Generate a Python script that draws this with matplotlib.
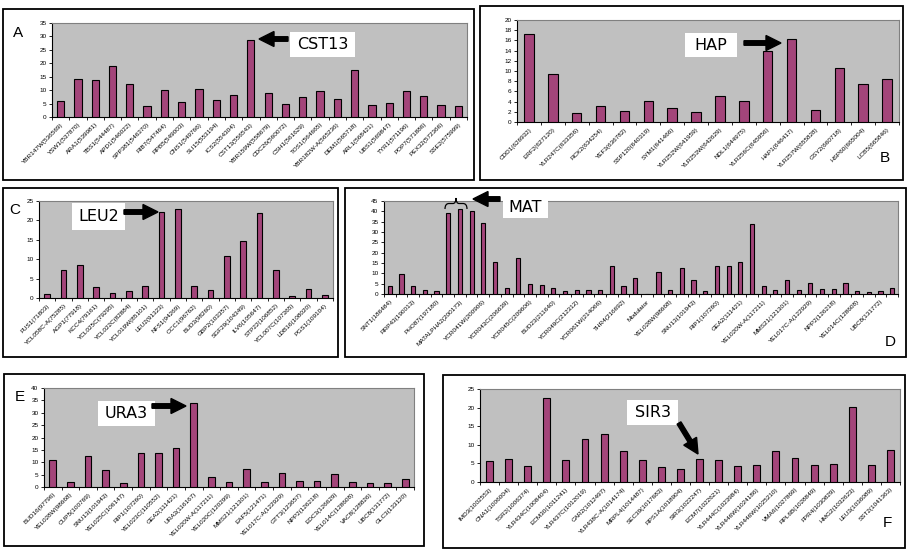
import matplotlib
matplotlib.use("Agg")
import matplotlib.pyplot as plt
from matplotlib.patches import Rectangle, FancyArrow, PathPatch
from matplotlib.path import Path
from matplotlib.transforms import Affine2D

W, H = 907, 549

# chromosome III / II / XII / V neighbourhoods, one panel each
A_genes = ["YBR147W(536569)", "YSW1(537870)", "ARA1(539981)", "TBS1(544487)",
           "APD1(546022)", "SPP381(546370)", "RIB7(547464)", "RPB5(549003)",
           "CNS1(549766)", "SLI15(553194)", "ICS2(554304)", "CST13(556543)",
           "YBR159W(558679)", "CDC26(560072)", "CSH1(561629)", "TOS1(564665)",
           "YBR182W-A(565236)", "DEM1(565718)", "ARL1(568421)", "UBS1(569847)",
           "TYR1(571196)", "POP7(571886)", "PEX32(572366)", "SSE2(575999)"]
A_vals = [5.9, 14.1, 13.9, 18.9, 12.4, 4.0, 9.9, 5.4, 10.6, 6.2, 8.1, 28.8,
          8.8, 4.9, 7.6, 9.6, 6.8, 17.4, 4.6, 5.1, 9.6, 8.0, 4.5, 4.2]

B_genes = ["CDD1(626932)", "ERF2(627120)", "YLR247C(633356)", "RCK2(634254)",
           "YEF3(636782)", "SSP120(640319)", "SYM1(641466)", "YLR252W(641959)",
           "YLR253W(642629)", "NDL1(644975)", "YLR256C(645956)", "HAP1(646417)",
           "YLR257W(655828)", "GSY2(660718)", "HSP60(665004)", "LCB5(665846)"]
B_vals = [17.25, 9.35, 1.75, 3.2, 2.1, 4.05, 2.8, 1.95, 5.1, 4.1, 13.9, 16.2,
          2.35, 10.5, 7.4, 8.5]

C_genes = ["FUS1(71803)", "YCL058C-A(75285)", "AGP1(77918)", "KCC4(79161)",
           "YCL025C(79295)", "YCL022C(82884)", "YCL019W(85101)", "LEU2(91323)",
           "NFS1(94269)", "OCC1(96762)", "BUD3(98260)", "GBP2(103357)",
           "SGF29(104349)", "ILV6(105647)", "STP22(106852)", "YCL007C(107365)",
           "LDB16(108020)", "PGS1(109104)"]
C_vals = [1.1, 7.3, 8.5, 2.8, 1.3, 1.7, 3.0, 22.2, 23.0, 3.2, 2.1, 10.8, 14.8,
          21.9, 7.3, 0.6, 2.2, 0.8]

# only every second bar carries a name in this panel
D_genes = ["SNT1(186484)", "RRP43(190013)", "PHO87(197180)", "MATALPHA2(200173)",
           "YCR041W(200906)", "YCR043C(206639)", "YCR045C(209606)", "BUD23(211640)",
           "YCR049C(212312)", "YCR061W(214066)", "THR4(216692)", "Modulator",
           "YEL028W(98668)", "SNU13(101943)", "RIP1(107260)", "GEA2(111421)",
           "YEL020W-A(117211)", "MMS21(121301)", "YEL017C-A(122929)", "NPP2(126218)",
           "YEL014C(128608)", "UBC8(131772)"]
D_vals = [3.7, 9.7, 3.7, 1.9, 1.6, 39.2, 41.0, 40.2, 34.2, 15.3, 2.9, 17.4, 4.8,
          4.4, 2.7, 1.3, 1.8, 2.1, 1.8, 13.4, 3.7, 7.9, 0.0, 10.5, 1.9, 12.4, 6.6,
          1.6, 13.7, 13.5, 15.5, 33.7, 4.0, 1.9, 6.9, 1.9, 5.5, 2.4, 2.4, 5.2, 1.6,
          1.1, 1.6, 3.1]

E_genes = ["BUD16(97796)", "YEL028W(98668)", "CUP5(100769)", "SNU13(101943)",
           "YEL025C(106147)", "RIP1(107260)", "YEL023C(110552)", "GEA2(111421)",
           "URA3(116167)", "YEL020W-A(117211)", "YEL020C(120299)", "MMS21(121301)",
           "EAF5(121471)", "YEL017C-A(122929)", "GTT3(123657)", "NPP2(126218)",
           "EDC3(126629)", "YEL014C(128608)", "VAC8(128826)", "UBC8(131772)",
           "GLC3(133120)"]
E_vals = [10.8, 2.0, 12.4, 7.0, 1.5, 13.7, 13.6, 15.6, 33.9, 4.0, 1.9, 7.3, 2.0,
          5.6, 2.6, 2.4, 5.1, 2.0, 1.5, 1.75, 3.4]

F_genes = ["IMD3(1002553)", "CNA1(1006004)", "TSR2(1006374)", "YLR434C(1008404)",
           "ECM30(1011241)", "YLR437C(1012019)", "CAR2(1012497)", "YLR438C-A(1014174)",
           "MRPL4(1014487)", "SEC39(1017683)", "RPS1A(1018904)", "SIR3(1022247)",
           "ECM7(1022621)", "YLR444C(1023984)", "YLR446W(1024186)", "YLR446W(1025210)",
           "VMA6(1027869)", "RPL6B(1028849)", "FPR4(1030829)", "HMG2(1032623)",
           "LEU3(1036089)", "SST2(1041363)"]
F_vals = [5.7, 6.1, 4.3, 22.5, 5.8, 11.65, 12.9, 8.3, 6.0, 4.0, 3.5, 6.1, 5.9,
          4.4, 4.5, 8.3, 6.45, 4.5, 4.9, 20.1, 4.7, 8.7]

BAR = "#a3457a"
PLOT_BG = "#c0c0c0"

fig = plt.figure(figsize=(W / 100, H / 100), dpi=100, facecolor="white")
# pixel coordinates measured from the top-left corner
T = Affine2D().scale(1 / W, -1 / H).translate(0, 1) + fig.transFigure


def add_ax(left, top, right, bottom):
    return fig.add_axes([left / W, 1 - bottom / H, (right - left) / W, (bottom - top) / H])


def bar_panel(ax, genes, vals, ymax, ystep, width=0.4, every=1):
    n = len(vals)
    x = list(range(n))
    ax.set_facecolor(PLOT_BG)
    ax.bar(x, vals, width=width, color=BAR, edgecolor="black", linewidth=0.8, zorder=3)
    ax.set_xlim(-0.5, n - 0.5)
    ax.set_ylim(0, ymax)
    ax.set_yticks(range(0, ymax + 1, ystep))
    ax.tick_params(axis="y", labelsize=4.6, length=2.5, width=0.6, pad=1.5)
    for t in ax.get_yticklabels():
        t.set_fontfamily("Liberation Sans")
    ax.set_xticks(x[::every])
    ax.set_xticklabels(genes, rotation=45, ha="right", rotation_mode="anchor",
                       fontsize=4.6, fontfamily="Liberation Sans")
    ax.set_xticks([i + 0.5 for i in range(-1, n)], minor=True)
    ax.tick_params(axis="x", which="major", length=0, pad=3.5)
    ax.tick_params(axis="x", which="minor", length=2.5, width=0.6)
    for s in ("top", "right"):
        ax.spines[s].set_color("#808080")
        ax.spines[s].set_linewidth(0.8)
    for s in ("left", "bottom"):
        ax.spines[s].set_color("black")
        ax.spines[s].set_linewidth(0.8)


def frame(x0, y0, x1, y1):
    fig.patches.append(Rectangle((x0, y0), x1 - x0, y1 - y0, fill=False,
                                 edgecolor="black", linewidth=1.3, transform=T))


def label_box(text, x0, y0, x1, y1, size=11.5):
    fig.patches.append(Rectangle((x0, y0), x1 - x0, y1 - y0, facecolor="white",
                                 edgecolor="none", transform=T, zorder=5))
    fig.text((x0 + x1) / 2, (y0 + y1) / 2, text, transform=T, fontsize=size,
             fontfamily="DejaVu Sans", ha="center", va="center", zorder=6)


def arrow(x0, y0, x1, y1):
    fig.patches.append(FancyArrow(x0, y0, x1 - x0, y1 - y0, width=4.5, head_width=15,
                                  head_length=15, length_includes_head=True,
                                  color="black", transform=T, zorder=6))


def letter(ch, x, y):
    fig.text(x, y, ch, transform=T, fontsize=11, fontfamily="Liberation Sans",
             ha="center", va="center")


def brace(x0, x1, y_low, y_high):
    # horizontal curly brace opening downward
    xm = (x0 + x1) / 2
    ym = (y_low + y_high) / 2
    verts = [(x0, y_low), (x0, ym), (x0 + 4, ym),
             (xm - 3, ym), (xm, ym), (xm, y_high),
             (xm, ym), (xm + 3, ym),
             (x1 - 4, ym), (x1, ym), (x1, y_low)]
    codes = [Path.MOVETO, Path.CURVE3, Path.CURVE3,
             Path.LINETO, Path.CURVE3, Path.CURVE3,
             Path.CURVE3, Path.CURVE3,
             Path.LINETO, Path.CURVE3, Path.CURVE3]
    fig.patches.append(PathPatch(Path(verts, codes), fill=False, edgecolor="black",
                                 linewidth=0.9, transform=T, zorder=6))


# panel frames
frame(3, 9, 474, 180)
frame(480, 6, 903, 180)
frame(3, 188, 338, 357)
frame(345, 188, 906, 357)
frame(4, 374, 424, 546)
frame(443, 375, 905, 548)

axA = add_ax(52, 23, 467, 117)
bar_panel(axA, A_genes, A_vals, 35, 5, width=0.42)
axB = add_ax(517, 20, 899, 122)
bar_panel(axB, B_genes, B_vals, 20, 2, width=0.4)
axC = add_ax(39, 201, 333, 298)
bar_panel(axC, C_genes, C_vals, 25, 5, width=0.36)
axD = add_ax(384, 201, 898, 294)
bar_panel(axD, D_genes, D_vals, 45, 5, width=0.36, every=2)
axE = add_ax(44, 388, 414, 487)
bar_panel(axE, E_genes, E_vals, 40, 5, width=0.38)
axF = add_ax(480, 389, 900, 482)
bar_panel(axF, F_genes, F_vals, 25, 5, width=0.36)

# callouts
label_box("CST13", 290, 32, 355, 57)
arrow(288, 39, 259, 39)
label_box("HAP", 685, 33, 737, 57)
arrow(744, 43, 781, 43)
label_box("LEU2", 72, 203, 125, 230)
arrow(124, 212, 158, 212)
label_box("MAT", 503, 198, 548, 218)
arrow(500, 199, 473, 199)
brace(445, 467, 209, 198)
label_box("URA3", 98, 401, 155, 426)
arrow(152, 406, 186, 406)
label_box("SIR3", 627, 400, 678, 425)
arrow(679, 423, 698, 454)

letter("A", 18, 33)
letter("B", 885, 158)
letter("C", 15, 210)
letter("D", 890, 342)
letter("E", 20, 397)
letter("F", 887, 523)

fig.savefig("out.png", dpi=100, facecolor="white")
